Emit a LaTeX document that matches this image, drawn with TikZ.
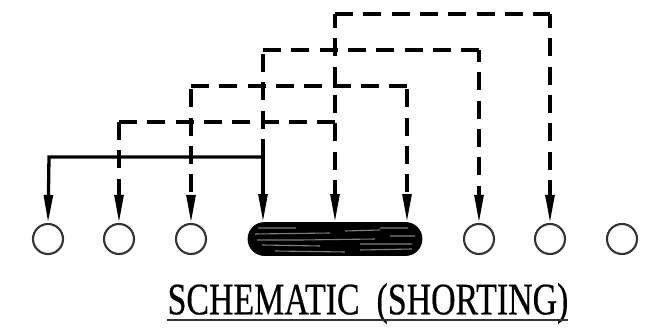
\documentclass[tikz,border=0pt]{standalone}
\usepackage{fontspec}
\setmainfont{Liberation Serif}
\newfontfamily\capfont[FakeBold=0.5]{Liberation Serif}
\usetikzlibrary{arrows.meta,shapes.misc}
\tikzset{
  terminal/.style={circle,draw=black!80,line width=2.1pt,minimum size=30pt,inner sep=0pt},
  shortbar/.style={rounded rectangle,fill=black,draw=black,line width=0.8pt,minimum width=174pt,minimum height=33pt,inner sep=0pt},
  wire/.style={line width=3.3pt},
  tipped/.style={-{Triangle[length=28pt,width=8.8pt]}},
  dashwire/.style={wire,dash pattern=on 18pt off 10.3pt,dash phase=#1},
  dashwire/.default=0pt,
  streak/.style={line width=1.1pt,black!50},
  caption/.style={font=\capfont\fontsize{45pt}{45pt}\selectfont,xscale=0.753,inner sep=0pt,text=black}
}
\begin{document}
\begin{tikzpicture}[x=1pt,y=-1pt]
\useasboundingbox (0,0) rectangle (646,332);
\fill[white] (0,0) rectangle (646,332);
\node[terminal] (t1) at (48,239) {};
\node[terminal] (t2) at (119,239) {};
\node[terminal] (t3) at (191,239) {};
\node[shortbar] (bar) at (335,239) {};
\node[terminal] (t4) at (479,239) {};
\node[terminal] (t5) at (550,239) {};
\node[terminal] (t6) at (622,239) {};
% bar streaks
\draw[streak] (258,228) -- (296,228) (255,234) -- (330,233) (257,240) -- (300,240) (262,245) -- (320,246)
  (345,231) -- (380,230) (300,240) -- (375,239) (360,244) -- (412,244) (360,250) -- (412,249)
  (275,251) -- (345,252) (390,236) -- (415,236) (380,228) -- (408,228);
% contact points
\coordinate (b1) at (263,222);
\coordinate (b2) at (335,222);
\coordinate (b3) at (407,222);
\coordinate (c1) at (263,157);
\coordinate (c0) at (49,157);
\coordinate (c2) at (119,122);
\coordinate (c3) at (335,122);
\coordinate (c4) at (191,86);
\coordinate (c5) at (407,86);
\coordinate (c6) at (263,50);
\coordinate (c7) at (479,50);
\coordinate (c8) at (335,14);
\coordinate (c9) at (550,14);
% dashed connectors
\draw[dashwire] (c2) -- (c3);
\draw[dashwire] (c4) -- (c5);
\draw[dashwire] (c6) -- (c7);
\draw[dashwire] (c8) -- (c9);
\draw[dashwire=0pt,tipped] (c2) -- (t2.north);
\draw[dashwire=25pt,tipped] (c4) -- (t3.north);
\draw[dashwire=24.3pt] (c6) -- (c1);
\draw[dashwire=6pt,tipped] (c7) -- (t4.north);
\draw[dashwire=4pt,tipped] (c8) -- (b2);
\draw[dashwire=4pt,tipped] (c9) -- (t5.north);
\draw[dashwire=25pt,tipped] (c5) -- (b3);
% solid connectors
\draw[wire,tipped] (c1) -- (c0) -- (t1.north);
\draw[wire,tipped] (c1) -- (b1);
% caption
\node[caption] (cap) at (368,303.5) {SCHEMATIC\ \ (SHORTING)};
\coordinate (u1) at (167,320);
\coordinate (u2) at (568,320);
\draw[line width=1.6pt,black!80] (u1) -- (u2);
\end{tikzpicture}
\end{document}
